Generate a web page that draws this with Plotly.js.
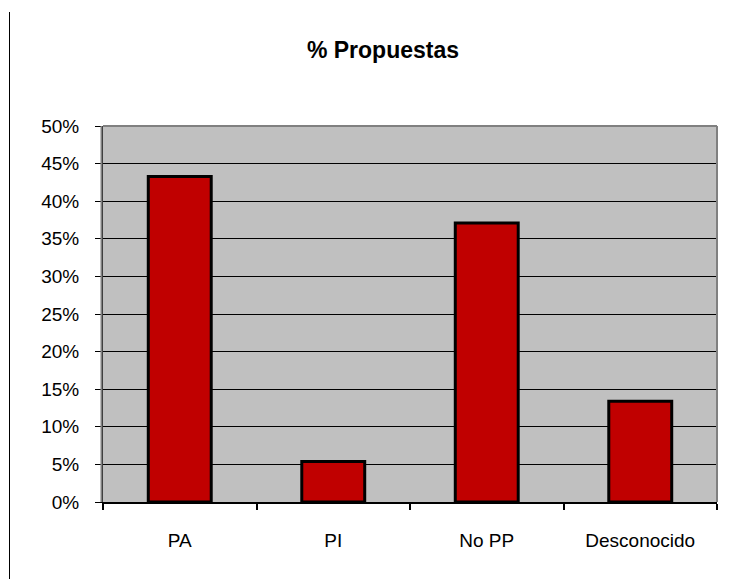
<!DOCTYPE html>
<html>
<head>
<meta charset="utf-8">
<script src="https://cdn.plot.ly/plotly-3.0.1.min.js"></script>
<style>html,body{margin:0;padding:0;background:#fff;}#chart{width:735px;height:579px;}</style>
</head>
<body>
<div id="chart"></div>
<script>
const categories = ["PA", "PI", "No PP", "Desconocido"];
const values = [0.433, 0.054, 0.371, 0.134];
const yTickValues = [0, 0.05, 0.10, 0.15, 0.20, 0.25, 0.30, 0.35, 0.40, 0.45, 0.50];
const yTickLabels = ["0%", "5%", "10%", "15%", "20%", "25%", "30%", "35%", "40%", "45%", "50%"];

const W = 735, H = 579;
const mL = 103, mR = 18, mT = 126, mB = 77;
const pw = W - mL - mR, ph = H - mT - mB;

const trace = {
  type: "bar",
  x: categories,
  y: values,
  marker: { color: "#C00000", line: { color: "#000000", width: 3 } },
  hoverinfo: "x+y"
};

const layout = {
  width: W, height: H,
  margin: { l: mL, r: mR, t: mT, b: mB, pad: 0 },
  paper_bgcolor: "#ffffff",
  plot_bgcolor: "#C0C0C0",
  font: { family: "Liberation Sans, Arial, sans-serif", size: 19, color: "#000" },
  title: {
    text: "<b>% Propuestas</b>",
    font: { family: "Liberation Sans, Arial, sans-serif", size: 23, color: "#000" },
    x: 383 / W, xanchor: "center", xref: "container",
    y: 1 - 50 / H, yanchor: "middle", yref: "container"
  },
  bargap: 0.59,
  showlegend: false,
  xaxis: {
    type: "category",
    tickson: "boundaries",
    ticks: "outside", ticklen: 6, tickwidth: 2, tickcolor: "#000",
    showline: true, linecolor: "#000", linewidth: 2,
    showgrid: false, zeroline: false,
    ticklabelstandoff: 20,
    tickfont: { size: 19 }
  },
  yaxis: {
    range: [0, 0.5],
    tickvals: yTickValues,
    ticktext: yTickLabels,
    ticks: "outside", ticklen: 7, tickwidth: 1, tickcolor: "#000",
    showline: true, linecolor: "#000", linewidth: 1,
    showgrid: true, gridcolor: "#000", gridwidth: 1,
    zeroline: false,
    ticklabelstandoff: 12,
    tickfont: { size: 19 }
  },
  shapes: [
    { type: "line", xref: "paper", yref: "paper", x0: 0, x1: 1, y0: 1, y1: 1, line: { color: "#808080", width: 2 }, layer: "above" },
    { type: "line", xref: "paper", yref: "paper", x0: 1, x1: 1, y0: 0, y1: 1, line: { color: "#808080", width: 2 }, layer: "above" },
    { type: "line", xref: "paper", yref: "paper", x0: -1.5 / pw, x1: -1.5 / pw, y0: 0, y1: 1, line: { color: "#808080", width: 2 }, layer: "above" },
    { type: "line", xref: "paper", yref: "paper", x0: (9.5 - mL) / pw, x1: (9.5 - mL) / pw, y0: -(H - mT - ph) / ph - 0.01, y1: 1 + (mT - 12) / ph, line: { color: "#000", width: 1 } }
  ]
};

Plotly.newPlot("chart", [trace], layout, { displayModeBar: false, staticPlot: true });
</script>
</body>
</html>
